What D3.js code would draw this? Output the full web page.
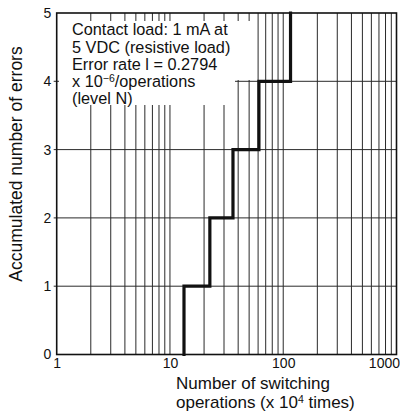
<!DOCTYPE html>
<html><head><meta charset="utf-8">
<script src="https://cdn.jsdelivr.net/npm/d3@7"></script>
<style>
html,body{margin:0;padding:0;background:#fff;}
svg{display:block;font-family:"Liberation Sans",Arial,Helvetica,sans-serif;}
</style></head>
<body>
<svg id="chart" width="400" height="412"></svg>
<script>
// Data
const xTickValues = [1, 10, 100, 1000];
const xTickLabels = ["1", "10", "100", "1000"];
const yTickValues = [0, 1, 2, 3, 4, 5];
const stepOperations = [13.3, 22.5, 36, 61, 116];   // x 10^4 operations at which an error occurred
const stepErrors = [1, 2, 3, 4, 5];                 // accumulated errors after each
const startOperations = 13.3;
const noteLines = ["Contact load: 1 mA at", "5 VDC (resistive load)", "Error rate l = 0.2794"];

const svg = d3.select("#chart");
const x = d3.scaleLog().domain([1, 1000]).range([56.7, 396.5]);
const y = d3.scaleLinear().domain([0, 5]).range([354.5, 13]);

// minor grid values
const gridX = [];
for (let d = 1; d < 1000; d *= 10) for (let k = 2; k <= 10; k++) gridX.push(d * k);

const g = svg.append("g");
// vertical grid lines
g.selectAll("line.vx").data(gridX.filter(v => v < 1000)).enter().append("line")
  .attr("x1", d => x(d)).attr("x2", d => x(d))
  .attr("y1", y(5)).attr("y2", y(0))
  .attr("stroke", "#2a2a2a").attr("stroke-width", 1);
// horizontal grid lines (with small outward tick)
g.selectAll("line.hy").data(yTickValues.filter(v => v > 0 && v < 5)).enter().append("line")
  .attr("x1", x(1) - 3).attr("x2", x(1000))
  .attr("y1", d => y(d)).attr("y2", d => y(d))
  .attr("stroke", "#2a2a2a").attr("stroke-width", 1);

// white box behind note
g.append("rect").attr("x", 59).attr("y", 21).attr("width", 198).attr("height", 59).attr("fill", "#fff");
g.append("rect").attr("x", 59).attr("y", 78).attr("width", 176).attr("height", 27).attr("fill", "#fff");

// step line
const pts = [[startOperations, 0]].concat(stepOperations.map((v, i) => [v, stepErrors[i]]));
g.append("path").datum(pts)
  .attr("d", d3.line().x(d => x(d[0])).y(d => y(d[1])).curve(d3.curveStepAfter))
  .attr("fill", "none").attr("stroke", "#111").attr("stroke-width", 3.2)
  .attr("stroke-linejoin", "miter").attr("stroke-linecap", "square");

// frame
g.append("rect").attr("x", x(1)).attr("y", y(5)).attr("width", x(1000) - x(1)).attr("height", y(0) - y(5))
  .attr("fill", "none").attr("stroke", "#111").attr("stroke-width", 1.6);

// y axis labels
const yAxis = d3.axisLeft(y).tickValues(yTickValues).tickSize(0).tickPadding(5).tickFormat(d3.format("d"));
const ya = svg.append("g").attr("transform", `translate(${x(1) - 0.5},0)`).call(yAxis);
ya.select(".domain").remove();
ya.selectAll("text").attr("font-size", 14).attr("fill", "#111")
  .attr("font-family", "Liberation Sans, Arial, sans-serif");

// x axis labels
const xAxis = d3.axisBottom(x).tickValues(xTickValues).tickSize(0).tickPadding(4)
  .tickFormat((d, i) => xTickLabels[i]);
const xa = svg.append("g").attr("transform", `translate(0,${y(0)})`).call(xAxis);
xa.select(".domain").remove();
xa.selectAll("text").attr("font-size", 14).attr("fill", "#111")
  .attr("font-family", "Liberation Sans, Arial, sans-serif");
xa.selectAll(".tick").filter(d => d === 1000).select("text").attr("text-anchor", "end").attr("dx", 3);

// note text
const fs = 16.3;
const baselines = [35, 52.5, 69.5, 86.5, 103.5];
noteLines.forEach((t, i) => {
  svg.append("text").attr("font-size", fs).attr("fill", "#111")
    .attr("x", 72).attr("y", baselines[i]).text(t);
});
const l4 = svg.append("text").attr("font-size", fs).attr("fill", "#111").attr("x", 72).attr("y", baselines[3]);
l4.append("tspan").text("x 10");
l4.append("tspan").attr("font-size", 10.5).attr("dy", -5).text("\u22126");
l4.append("tspan").attr("dy", 5).text("/operations");
svg.append("text").attr("font-size", fs).attr("fill", "#111").attr("x", 72).attr("y", baselines[4]).text("(level N)");

// axis titles
svg.append("text").attr("font-size", 17.5).attr("fill", "#111")
  .attr("text-anchor", "middle")
  .attr("transform", "translate(22,164) rotate(-90)")
  .text("Accumulated number of errors");
svg.append("text").attr("font-size", 17).attr("fill", "#111").attr("x", 176).attr("y", 389)
  .text("Number of switching");
const xt2 = svg.append("text").attr("font-size", 17).attr("fill", "#111").attr("x", 176).attr("y", 408);
xt2.append("tspan").text("operations (x 10");
xt2.append("tspan").attr("font-size", 10.5).attr("dy", -5.5).text("4");
xt2.append("tspan").attr("dy", 5.5).text(" times)");
</script>
</body></html>
